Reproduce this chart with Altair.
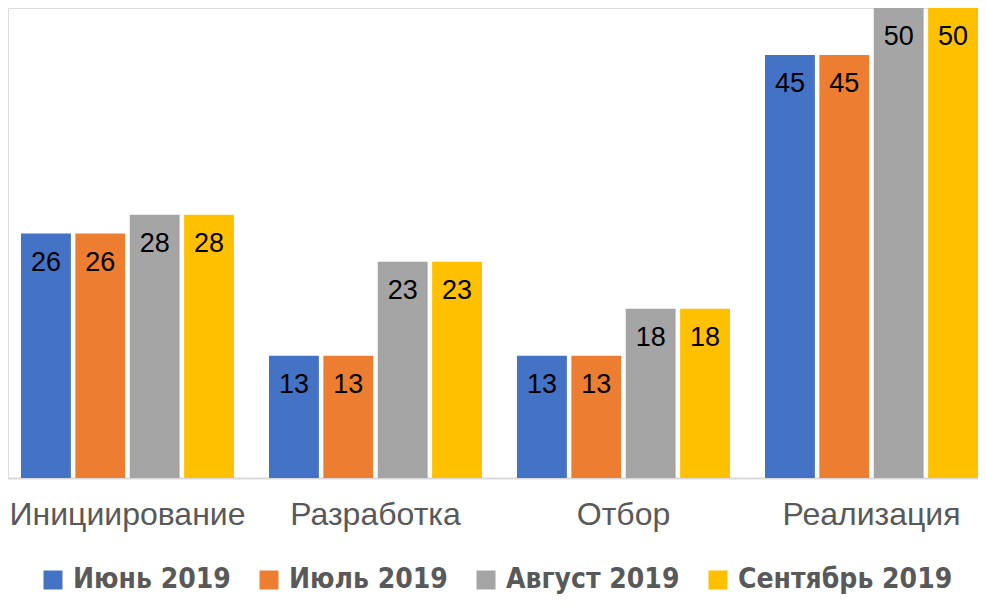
import altair as alt
import pandas as pd

categories = ["Инициирование", "Разработка", "Отбор", "Реализация"]
series = ["Июнь 2019", "Июль 2019", "Август 2019", "Сентябрь 2019"]
jun = [26, 13, 13, 45]
jul = [26, 13, 13, 45]
aug = [28, 23, 18, 50]
sep = [28, 23, 18, 50]
colors = ["#4472C4", "#ED7D31", "#A5A5A5", "#FFC000"]

rows = []
for s, vals in zip(series, [jun, jul, aug, sep]):
    for c, v in zip(categories, vals):
        rows.append({"category": c, "series": s, "value": v})
df = pd.DataFrame(rows)

W, H = 970, 470

base = alt.Chart(df).encode(
    x=alt.X(
        "category:N",
        sort=categories,
        title=None,
        scale=alt.Scale(range=[-4.5, 987.5], paddingInner=0.141, paddingOuter=0.0705),
        axis=alt.Axis(
            labelAngle=0,
            labelFont="Liberation Sans",
            labelFontSize=32,
            labelColor="#595959",
            labelPadding=21,
            labelLimit=0,
            ticks=False,
            tickSize=0,
            domainColor="#D9D9D9",
            domainWidth=2,
        ),
    ),
    xOffset=alt.XOffset(
        "series:N",
        sort=series,
        scale=alt.Scale(paddingInner=0.0826, paddingOuter=0),
    ),
    y=alt.Y("value:Q", scale=alt.Scale(domain=[0, 50]), axis=None),
)

bars = base.mark_bar().encode(
    color=alt.Color(
        "series:N",
        sort=series,
        scale=alt.Scale(domain=series, range=colors),
        legend=alt.Legend(
            title=None,
            orient="none",
            legendX=31,
            legendY=558,
            direction="horizontal",
            columns=4,
            symbolType="square",
            symbolSize=361,
            symbolStrokeWidth=0,
            labelFont="DejaVu Sans Condensed",
            labelFontWeight="bold",
            labelFontSize=28,
            labelColor="#595959",
            labelOffset=6,
            columnPadding=24,
            padding=0,
            labelLimit=0,
        ),
    )
)

text = base.mark_text(
    baseline="middle",
    dy=29,
    font="Liberation Sans",
    fontSize=27,
    color="#000000",
).encode(text="value:Q")

chart = (
    alt.layer(bars, text)
    .properties(
        width=W,
        height=H,
        autosize=alt.AutoSizeParams(type="none"),
        padding={"left": 0, "top": 0, "right": 0, "bottom": 118},
    )
    .configure_view(strokeWidth=0, strokeOpacity=0)
    .configure(background="white")
)

chart.save("out.html", embed_options={"renderer": "svg", "actions": False})
